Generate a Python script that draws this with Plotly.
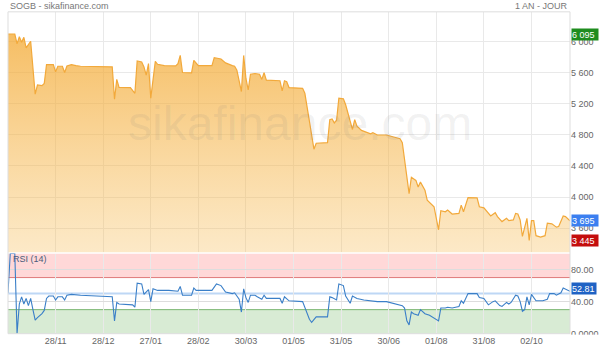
import plotly.graph_objects as go

# ---------------- data ----------------
tick_days = [21, 42, 63, 84, 105, 126, 147, 168, 189, 210, 231]
tick_labels = ["28/11", "28/12", "27/01", "28/02", "30/03", "01/05",
               "31/05", "30/06", "01/08", "31/08", "02/10"]

price_day = [0, 3, 4, 5, 6, 7, 8, 9, 10, 12, 13, 15, 16, 17, 20, 21, 22, 24, 25, 26,
             28, 30, 32, 46, 47, 48, 49, 54, 56, 57, 59, 60, 61, 62, 63, 65, 66, 69,
             74, 75, 76, 77, 81, 82, 84, 90, 91, 94, 96, 99, 100, 101, 103, 104, 105,
             106, 107, 109, 111, 112, 113, 114, 120, 121, 122, 123, 124, 130, 131, 133,
             135, 136, 141, 142, 143, 144, 145, 146, 148, 149, 151, 152, 153, 154, 156,
             158, 160, 161, 163, 167, 170, 173, 174, 177, 178, 180, 181, 182, 184, 185,
             188, 189, 190, 191, 193, 194, 196, 199, 200, 201, 203, 207, 208, 210, 213,
             215, 216, 218, 220, 221, 223, 224, 225, 226, 227, 229, 230, 231, 232, 233,
             235, 237, 238, 240, 242, 243, 245, 246, 248]
price = [6095, 6095, 5968, 6061, 5990, 6053, 5918, 5968, 6002, 5322, 5440, 5432, 5461,
         5702, 5702, 5610, 5681, 5681, 5601, 5685, 5702, 5689, 5681, 5673, 5258, 5512,
         5410, 5407, 5334, 5749, 5736, 5673, 5566, 5715, 5271, 5744, 5706, 5689, 5685,
         5715, 5820, 5601, 5597, 5757, 5689, 5689, 5791, 5774, 5724, 5689, 5681, 5630,
         5356, 5820, 5524, 5376, 5579, 5588, 5579, 5512, 5597, 5503, 5495, 5364, 5495,
         5482, 5407, 5398, 5334, 4976, 4616, 4692, 4700, 4996, 5005, 4954, 4988, 5271,
         5262, 5186, 4996, 4869, 4996, 4912, 4857, 4840, 4814, 4827, 4798, 4798, 4773,
         4751, 4700, 4045, 4256, 4215, 4130, 4193, 4088, 3961, 3877, 3750, 3581, 3825,
         3812, 3834, 3783, 3791, 3897, 3812, 3994, 3990, 3877, 3863, 3758, 3800, 3750,
         3686, 3728, 3699, 3707, 3791, 3783, 3707, 3496, 3728, 3445, 3699, 3699, 3505,
         3487, 3505, 3665, 3657, 3615, 3623, 3758, 3750, 3695]

rsi_day = [0, 1, 3, 4, 5, 6, 7, 8, 9, 10, 11, 12, 13, 15, 16, 17, 18, 20, 21, 22, 24,
           25, 26, 28, 32, 46, 47, 48, 49, 55, 56, 57, 59, 60, 62, 63, 64, 66, 71, 75,
           76, 77, 81, 82, 83, 90, 92, 94, 96, 99, 100, 101, 102, 103, 104, 105, 106,
           107, 109, 110, 112, 113, 114, 120, 121, 122, 124, 130, 131, 133, 134, 136,
           141, 142, 143, 145, 146, 148, 149, 150, 151, 152, 154, 157, 160, 163, 167,
           170, 174, 175, 176, 177, 178, 179, 181, 182, 184, 186, 188, 190, 191, 193,
           194, 196, 199, 200, 201, 203, 207, 208, 210, 212, 214, 215, 217, 218, 220,
           221, 222, 224, 225, 226, 227, 228, 229, 230, 231, 233, 236, 238, 239, 241,
           242, 244, 245, 247, 248]
rsi = [51, 100, 100, 0, 37, 46, 37, 44, 35, 44, 30, 17, 20, 25, 29, 44, 47, 47, 42, 46,
       46, 42, 48, 49, 48, 46, 16, 39, 37, 36, 33, 63, 62, 49, 55, 40, 56, 54, 54, 53,
       59, 48, 48, 57, 54, 54, 62, 60, 52, 50, 51, 47, 43, 27, 56, 45, 39, 48, 48, 46,
       43, 48, 44, 44, 38, 46, 41, 40, 33, 18, 14, 21, 21, 46, 45, 42, 62, 60, 47, 43,
       38, 47, 44, 42, 41, 40, 40, 38, 35, 32, 16, 11, 27, 25, 23, 30, 25, 23, 20, 16,
       32, 32, 33, 32, 34, 41, 38, 50, 50, 45, 44, 36, 40, 41, 35, 34, 39, 37, 39, 48,
       47, 40, 28, 30, 46, 36, 49, 41, 41, 43, 50, 50, 48, 51, 57, 54, 52.81]

price_ticks = [3600, 4000, 4400, 4800, 5200, 5600, 6000]
price_tick_text = ["3 600", "4 000", "4 400", "4 800", "5 200", "5 600", "6 000"]
rsi_ticks = [0, 40, 80]
rsi_tick_text = ["0.0000", "40.00", "80.00"]

price_high, price_low, price_last = 6095, 3445, 3695
rsi_last = 52.81

# ---------------- geometry ----------------
W, H = 600, 351
XL, XR = 8, 570
MAIN_TOP, MAIN_BOT = 12, 256
RSI_TOP, RSI_BOT = 257.2, 338.5
P_MIN, P_MAX = 3291, 6380

def py(v):
    return 1 - v / H

def fmt(v):
    return f"{v:,}".replace(",", " ")

FONT = "Arial, Liberation Sans, sans-serif"
GRID = "#e9e9e9"

fig = go.Figure()

fig.add_trace(go.Scatter(
    x=price_day, y=price, mode="lines", xaxis="x", yaxis="y",
    line=dict(color="#f2a93b", width=1.2),
    fill="tozeroy",
    fillgradient=dict(type="vertical",
                      colorscale=[[0, "rgba(247,190,90,0.33)"],
                                  [1, "rgba(243,168,48,0.75)"]],
                      start=P_MIN, stop=price_high),
    hoverinfo="skip"))

fig.add_trace(go.Scatter(
    x=rsi_day, y=rsi, mode="lines", xaxis="x2", yaxis="y2",
    line=dict(color="#3a7fc8", width=1.1), hoverinfo="skip"))

fig.update_layout(
    width=W, height=H, margin=dict(l=0, r=0, t=0, b=0),
    paper_bgcolor="white", plot_bgcolor="white", showlegend=False,
    font=dict(family=FONT, size=9, color="#666666"),
    xaxis=dict(domain=[XL / W, XR / W], range=[0, 248], anchor="y",
               tickvals=tick_days, showticklabels=False, showgrid=True,
               gridcolor=GRID, zeroline=False, showline=False, ticks=""),
    yaxis=dict(domain=[py(MAIN_BOT), py(MAIN_TOP)], range=[P_MIN, P_MAX], anchor="x",
               side="right", tickvals=price_ticks, ticktext=price_tick_text,
               showgrid=True, gridcolor=GRID, zeroline=False, ticks="",
               tickfont=dict(size=9, color="#666666")),
    xaxis2=dict(domain=[XL / W, XR / W], range=[0, 248], anchor="y2",
                tickvals=tick_days, ticktext=tick_labels, showgrid=True,
                gridcolor=GRID, zeroline=False, showline=False, ticks="",
                tickfont=dict(size=9, color="#666666")),
    yaxis2=dict(domain=[py(RSI_BOT), py(RSI_TOP)], range=[0, 100], anchor="x2",
                side="right", tickvals=rsi_ticks, ticktext=rsi_tick_text,
                showgrid=True, gridcolor="#dddddd", zeroline=False, ticks="",
                tickfont=dict(size=9, color="#666666")),
)

shapes = [
    dict(type="rect", xref="paper", yref="y2", x0=XL / W, x1=XR / W, y0=70, y1=100,
         fillcolor="rgba(255,90,90,0.24)", line=dict(width=0), layer="below"),
    dict(type="rect", xref="paper", yref="y2", x0=XL / W, x1=XR / W, y0=0, y1=30,
         fillcolor="rgba(70,160,50,0.21)", line=dict(width=0), layer="below"),
    dict(type="line", xref="paper", yref="y2", x0=XL / W, x1=XR / W, y0=70, y1=70,
         line=dict(color="rgba(220,110,110,0.9)", width=1), layer="below"),
    dict(type="line", xref="paper", yref="y2", x0=XL / W, x1=XR / W, y0=30, y1=30,
         line=dict(color="rgba(110,175,100,0.9)", width=1), layer="below"),
    dict(type="line", xref="paper", yref="y2", x0=XL / W, x1=XR / W, y0=50, y1=50,
         line=dict(color="rgba(190,215,245,1)", width=2), layer="below"),
    dict(type="rect", xref="paper", yref="paper", x0=XL / W, x1=XR / W,
         y0=py(RSI_BOT), y1=py(MAIN_TOP), line=dict(color="#dddddd", width=1),
         fillcolor="rgba(0,0,0,0)", layer="above"),
    dict(type="rect", xref="paper", yref="paper", x0=(XR + 1) / W, x1=1,
         y0=0, y1=py(RSI_BOT + 1), fillcolor="white", line=dict(width=0), layer="above"),
]
fig.update_layout(shapes=shapes)

ann = [
    dict(text="sikafinance.com", xref="paper", yref="paper", x=300 / W, y=py(125),
         showarrow=False, font=dict(family=FONT, size=48, color="rgba(120,120,120,0.10)")),
    dict(text="SOGB - sikafinance.com", xref="paper", yref="paper", x=XL / W, y=py(6),
         xanchor="left", yanchor="middle", showarrow=False,
         font=dict(family=FONT, size=9, color="#777777")),
    dict(text="1 AN - JOUR", xref="paper", yref="paper", x=XR / W, y=py(6),
         xanchor="right", yanchor="middle", showarrow=False,
         font=dict(family=FONT, size=9, color="#777777")),
    dict(text="RSI (14)", xref="paper", yref="paper", x=(XL + 3) / W, y=py(263),
         xanchor="left", yanchor="middle", showarrow=False,
         font=dict(family=FONT, size=9, color="#4a5a7a")),
]
for val, col in [(price_high, "#1e8c1e"), (price_last, "#3b7ff0"), (price_low, "#c40d0d")]:
    ann.append(dict(text=fmt(val), xref="paper", yref="y", x=(XR + 1) / W, y=val,
                    xanchor="left", yanchor="middle", showarrow=False, align="left",
                    bgcolor=col, width=26, height=11, borderpad=0,
                    font=dict(family=FONT, size=9, color="white")))
ann.append(dict(text=f"{rsi_last:.2f}", xref="paper", yref="y2", x=(XR + 1) / W,
                y=rsi_last, yshift=3, xanchor="left", yanchor="middle", showarrow=False,
                align="left", bgcolor="#1f62c4", width=24, height=11, borderpad=0,
                font=dict(family=FONT, size=9, color="white")))
fig.update_layout(annotations=ann)

fig.write_html("out.html")
